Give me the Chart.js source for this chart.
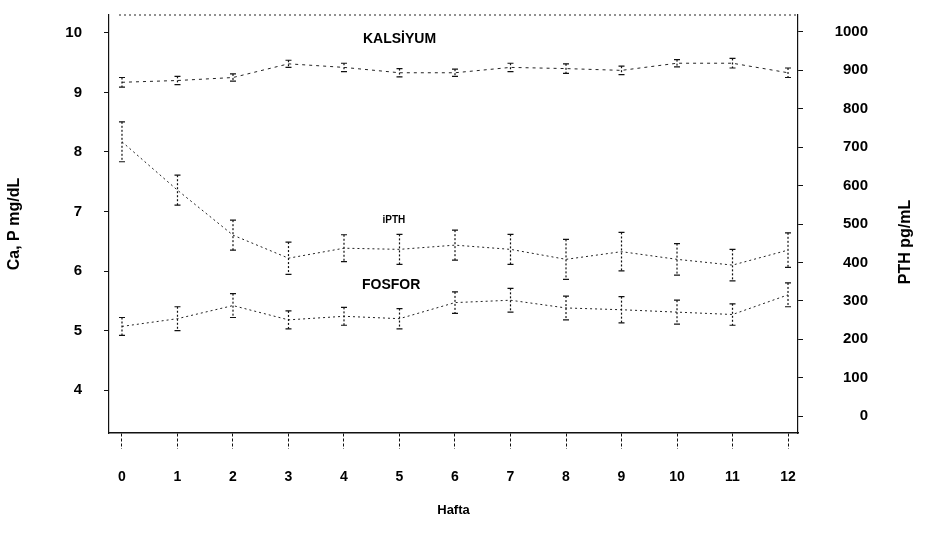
<!DOCTYPE html>
<html><head><meta charset="utf-8">
<script src="https://cdn.jsdelivr.net/npm/chart.js@4.4.1/dist/chart.umd.min.js"></script>
<style>html,body{margin:0;padding:0;background:#fff}#wrap{width:925px;height:545px;position:relative}</style>
</head><body><div id="wrap"><canvas id="c"></canvas></div>
<script>
const weeks = [0,1,2,3,4,5,6,7,8,9,10,11,12];
const kalsiyum    = [9.17,9.20,9.25,9.48,9.42,9.33,9.33,9.42,9.40,9.37,9.49,9.49,9.33];
const kalsiyumErr = [0.08,0.07,0.06,0.06,0.07,0.07,0.06,0.07,0.08,0.07,0.06,0.08,0.08];
const fosfor      = [5.07,5.20,5.42,5.18,5.24,5.20,5.47,5.51,5.38,5.35,5.31,5.27,5.60];
const fosforErr   = [0.15,0.20,0.20,0.15,0.15,0.17,0.18,0.20,0.20,0.22,0.20,0.18,0.20];
const pth         = [714,588,471,411,437,434,445,434,408,428,408,393,432];
const pthErr      = [52,39,39,42,35,39,39,39,52,50,41,41,45];
const leftTicks  = [4,5,6,7,8,9,10];
const rightTicks = [0,100,200,300,400,500,600,700,800,900,1000];
const xTicks = weeks;
const seriesLabels = [
  {text:'KALSİYUM', x:5.0, y:9.9,  axis:'y',  size:14},
  {text:'iPTH',     x:4.9, y:510,  axis:'y1', size:10},
  {text:'FOSFOR',   x:4.85,y:5.77, axis:'y',  size:14}
];

const FONT = '"Liberation Sans", Arial, sans-serif';
const pts = (arr) => weeks.map((w,i)=>({x:w, y:arr[i]}));

const errorBars = {
  id:'errorBars',
  afterDatasetsDraw(chart){
    const ctx = chart.ctx, xs = chart.scales.x;
    chart.data.datasets.forEach(ds=>{
      const ys = chart.scales[ds.yAxisID];
      ctx.save();
      ctx.strokeStyle = '#111';
      ctx.lineWidth = 1.2;
      ds.data.forEach((p,i)=>{
        const e = ds.err[i];
        const px = xs.getPixelForValue(p.x);
        const y1 = ys.getPixelForValue(p.y + e), y2 = ys.getPixelForValue(p.y - e);
        ctx.setLineDash([2,2]);
        ctx.beginPath(); ctx.moveTo(px,y1); ctx.lineTo(px,y2); ctx.stroke();
        ctx.setLineDash([]);
        ctx.beginPath();
        ctx.moveTo(px-3,y1); ctx.lineTo(px+3,y1);
        ctx.moveTo(px-3,y2); ctx.lineTo(px+3,y2);
        ctx.stroke();
      });
      ctx.restore();
    });
  }
};

const frameAndText = {
  id:'frameAndText',
  afterDraw(chart){
    const ctx = chart.ctx, a = chart.chartArea;
    ctx.save();
    ctx.strokeStyle = '#222';
    ctx.lineWidth = 1;
    ctx.setLineDash([2,3]);
    ctx.beginPath(); ctx.moveTo(a.left+10, a.top); ctx.lineTo(a.right, a.top); ctx.stroke();
    ctx.setLineDash([]);
    ctx.fillStyle = '#000';
    ctx.textAlign = 'center'; ctx.textBaseline = 'middle';
    seriesLabels.forEach(l=>{
      ctx.font = 'bold ' + l.size + 'px ' + FONT;
      ctx.fillText(l.text, chart.scales.x.getPixelForValue(l.x), chart.scales[l.axis].getPixelForValue(l.y));
    });
    ctx.font = 'bold 16px ' + FONT;
    ctx.translate(906, 242);
    ctx.rotate(-Math.PI/2);
    ctx.fillText('PTH pg/mL', 0, 0);
    ctx.restore();
  }
};

const lineDs = (label, arr, err, axis, dash) => ({
  label, data: pts(arr), err, yAxisID: axis,
  borderColor:'#222', borderWidth:1, borderDash:dash,
  pointRadius:0, tension:0, fill:false
});

const noPad = (s) => { s.paddingTop = 0; s.paddingBottom = 0; };

new Chart(document.getElementById('c'), {
  type:'line',
  data:{ datasets:[
    lineDs('Kalsiyum', kalsiyum, kalsiyumErr, 'y', [3,4]),
    lineDs('iPTH', pth, pthErr, 'y1', [2,3]),
    lineDs('Fosfor', fosfor, fosforErr, 'y', [2,3])
  ]},
  options:{
    responsive:true, maintainAspectRatio:false, animation:false, devicePixelRatio:1,
    layout:{padding:{top:15,left:0,right:57,bottom:0}},
    plugins:{legend:{display:false}, tooltip:{enabled:false}},
    scales:{
      x:{
        type:'linear', min:-0.234, max:12.18,
        afterBuildTicks(s){ s.ticks = xTicks.map(v=>({value:v})); },
        afterFit(s){ s.height = 112; s.paddingLeft = 0; s.paddingRight = 0; },
        grid:{drawOnChartArea:false, drawTicks:true, tickLength:16, color:'#111', tickBorderDash:[3,2], tickWidth:1},
        border:{display:true, color:'#111', width:1.5},
        ticks:{color:'#000', font:{family:FONT, size:14, weight:'bold'}, padding:20, maxRotation:0},
        title:{display:true, text:'Hafta', color:'#000', font:{family:FONT, size:13, weight:'bold'}, padding:{top:0,bottom:27}}
      },
      y:{
        type:'linear', position:'left', min:3.28, max:10.3,
        afterBuildTicks(s){ s.ticks = leftTicks.map(v=>({value:v})); },
        afterFit(s){ s.width = 109; noPad(s); },
        grid:{drawOnChartArea:false, drawTicks:true, tickLength:5, color:'#111'},
        border:{display:true, color:'#111', width:1.2, dash:[2,2]},
        ticks:{color:'#000', font:{family:FONT, size:15, weight:'bold'}, padding:22},
        title:{display:true, text:'Ca, P mg/dL', color:'#000', font:{family:FONT, size:16, weight:'bold'}, padding:{top:5,bottom:0}}
      },
      y1:{
        type:'linear', position:'right', min:-44, max:1044,
        afterBuildTicks(s){ s.ticks = rightTicks.map(v=>({value:v})); },
        afterFit(s){ s.width = 70; noPad(s); },
        grid:{drawOnChartArea:false, drawTicks:true, tickLength:5, color:'#111'},
        border:{display:true, color:'#111', width:1.2, dash:[2,2]},
        ticks:{color:'#000', font:{family:FONT, size:15, weight:'bold'}, padding:8, crossAlign:'far',
               callback:(v)=>String(v)}
      }
    }
  },
  plugins:[errorBars, frameAndText]
});
</script>
</body></html>
